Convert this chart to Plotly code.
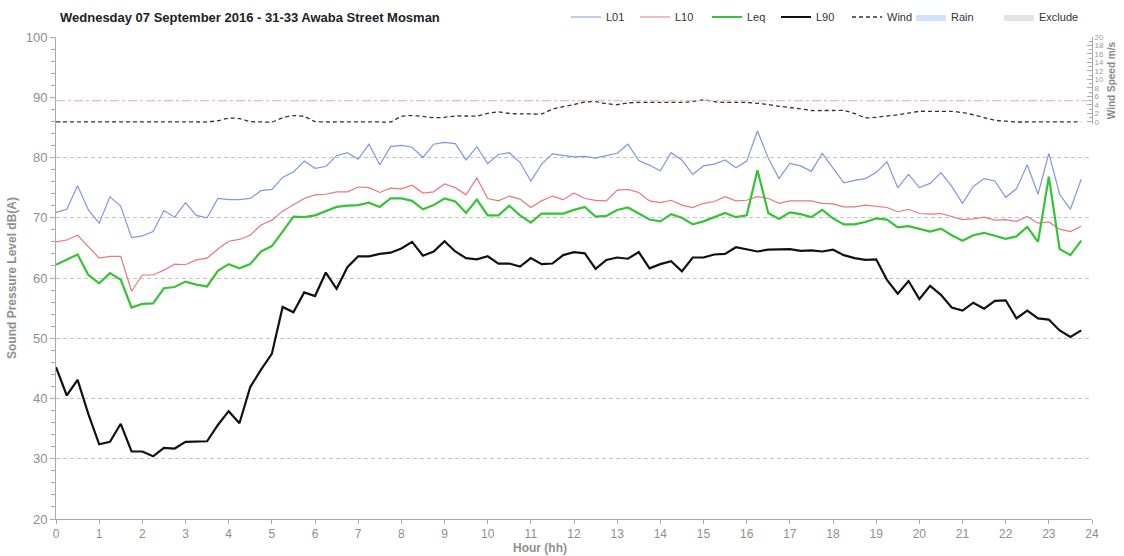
import plotly.graph_objects as go

TITLE = "Wednesday 07 September 2016 - 31-33 Awaba Street Mosman"

HOURS = [0.0, 0.25, 0.5, 0.75, 1.0, 1.25, 1.5, 1.75, 2.0, 2.25, 2.5, 2.75,
         3.0, 3.25, 3.5, 3.75, 4.0, 4.25, 4.5, 4.75, 5.0, 5.25, 5.5, 5.75,
         6.0, 6.25, 6.5, 6.75, 7.0, 7.25, 7.5, 7.75, 8.0, 8.25, 8.5, 8.75,
         9.0, 9.25, 9.5, 9.75, 10.0, 10.25, 10.5, 10.75, 11.0, 11.25, 11.5, 11.75,
         12.0, 12.25, 12.5, 12.75, 13.0, 13.25, 13.5, 13.75, 14.0, 14.25, 14.5, 14.75,
         15.0, 15.25, 15.5, 15.75, 16.0, 16.25, 16.5, 16.75, 17.0, 17.25, 17.5, 17.75,
         18.0, 18.25, 18.5, 18.75, 19.0, 19.25, 19.5, 19.75, 20.0, 20.25, 20.5, 20.75,
         21.0, 21.25, 21.5, 21.75, 22.0, 22.25, 22.5, 22.75, 23.0, 23.25, 23.5, 23.75]

L01 = [70.9, 71.4, 75.3, 71.3, 69.1, 73.5, 71.9, 66.7, 67.0, 67.7, 71.2, 70.1,
       72.5, 70.4, 70.0, 73.2, 73.0, 73.0, 73.2, 74.5, 74.7, 76.7, 77.6, 79.4,
       78.2, 78.5, 80.3, 80.8, 79.7, 82.2, 78.8, 81.8, 82.0, 81.7, 80.0, 82.2,
       82.5, 82.3, 79.6, 81.8, 79.0, 80.5, 80.8, 79.2, 76.1, 78.9, 80.6, 80.4,
       80.1, 80.2, 79.9, 80.3, 80.7, 82.2, 79.5, 78.7, 77.8, 80.8, 79.6, 77.2,
       78.6, 78.9, 79.6, 78.3, 79.4, 84.4, 79.9, 76.5, 79.0, 78.6, 77.7, 80.7,
       78.2, 75.8, 76.2, 76.5, 77.5, 79.3, 75.0, 77.2, 75.0, 75.7, 77.5, 75.2,
       72.4, 75.2, 76.5, 76.1, 73.4, 74.8, 78.8, 73.9, 80.7, 73.9, 71.4, 76.4]

L10 = [66.0, 66.3, 67.1, 65.2, 63.3, 63.6, 63.6, 57.8, 60.5, 60.5, 61.3, 62.3,
       62.2, 63.0, 63.3, 64.8, 66.1, 66.4, 67.1, 68.8, 69.6, 71.1, 72.1, 73.2,
       73.8, 73.9, 74.3, 74.3, 75.1, 75.0, 74.2, 74.9, 74.8, 75.4, 74.1, 74.3,
       75.6, 75.0, 73.8, 76.6, 73.2, 72.8, 73.6, 73.1, 71.7, 72.8, 73.6, 73.0,
       74.1, 73.2, 72.9, 72.8, 74.6, 74.7, 74.2, 72.8, 72.5, 72.9, 72.1, 71.7,
       72.4, 72.7, 73.5, 72.8, 72.9, 73.5, 73.2, 72.4, 72.8, 72.8, 72.8, 72.4,
       72.3, 71.8, 71.8, 72.1, 71.9, 71.7, 71.0, 71.4, 70.7, 70.6, 70.7, 70.2,
       69.7, 69.8, 70.1, 69.6, 69.7, 69.4, 70.2, 69.1, 69.3, 68.1, 67.7, 68.6]

LEQ = [62.2, 63.0, 63.9, 60.5, 59.1, 60.8, 59.7, 55.1, 55.7, 55.8, 58.3, 58.5,
       59.4, 58.9, 58.6, 61.2, 62.3, 61.6, 62.3, 64.4, 65.3, 67.7, 70.2, 70.1,
       70.4, 71.1, 71.8, 72.0, 72.1, 72.5, 71.8, 73.2, 73.2, 72.8, 71.4, 72.1,
       73.2, 72.7, 70.8, 73.0, 70.4, 70.4, 72.0, 70.4, 69.2, 70.7, 70.7, 70.7,
       71.3, 71.8, 70.2, 70.3, 71.3, 71.7, 70.7, 69.7, 69.4, 70.6, 70.0, 68.9,
       69.4, 70.1, 70.8, 70.1, 70.4, 77.9, 70.8, 69.8, 70.9, 70.6, 70.1, 71.3,
       69.9, 68.9, 68.9, 69.3, 69.9, 69.7, 68.4, 68.6, 68.1, 67.7, 68.2, 67.1,
       66.2, 67.1, 67.5, 67.0, 66.5, 66.9, 68.5, 66.0, 76.8, 64.8, 63.8, 66.2]

L90 = [45.2, 40.5, 43.1, 37.4, 32.4, 32.8, 35.8, 31.2, 31.2, 30.4, 31.8, 31.7,
       32.8, 32.9, 32.9, 35.6, 37.9, 35.9, 41.9, 44.8, 47.4, 55.2, 54.3, 57.6,
       57.0, 60.9, 58.2, 61.8, 63.6, 63.6, 64.0, 64.2, 64.9, 66.0, 63.7, 64.4,
       66.1, 64.4, 63.3, 63.1, 63.6, 62.4, 62.4, 61.9, 63.3, 62.3, 62.4, 63.8,
       64.3, 64.1, 61.5, 63.0, 63.4, 63.2, 64.3, 61.6, 62.3, 62.8, 61.1, 63.4,
       63.4, 63.9, 64.0, 65.1, 64.7, 64.4, 64.7, 64.7, 64.8, 64.5, 64.6, 64.4,
       64.7, 63.8, 63.3, 63.0, 63.1, 59.7, 57.4, 59.5, 56.5, 58.7, 57.2, 55.1,
       54.6, 55.9, 54.9, 56.2, 56.3, 53.3, 54.6, 53.3, 53.1, 51.3, 50.2, 51.3]

WIND = [0, 0, 0, 0, 0, 0, 0, 0, 0, 0, 0, 0,
        0, 0, 0, 0.3, 0.9, 0.8, 0.1, 0, 0, 1.0, 1.5, 1.3,
        0.1, 0, 0, 0, 0, 0, 0, 0, 1.3, 1.5, 1.3, 1.0,
        1.1, 1.4, 1.4, 1.4, 2.0, 2.4, 2.0, 1.9, 1.9, 1.9, 3.0, 3.6,
        4.1, 4.7, 4.8, 4.3, 4.1, 4.5, 4.6, 4.6, 4.6, 4.6, 4.6, 4.8,
        5.2, 4.8, 4.6, 4.6, 4.6, 4.4, 4.1, 3.7, 3.4, 3.1, 2.7, 2.7,
        2.7, 2.7, 2.0, 1.0, 1.1, 1.4, 1.7, 2.1, 2.5, 2.5, 2.5, 2.5,
        2.2, 1.7, 1.0, 0.4, 0.2, 0, 0, 0, 0, 0, 0, 0]

WIND_LIMIT = 5
X_TICKS = list(range(0, 25))
Y_TICKS = [20, 30, 40, 50, 60, 70, 80, 90, 100]
WIND_TICKS = [0, 2, 4, 6, 8, 10, 12, 14, 16, 18, 20]

FONT = "Liberation Sans, Arial, sans-serif"
GREY = "#8f8f8f"

W, H = 1124, 556
ML, MR, MT, MB = 56, 32, 37, 37
PW, PH = W - ML - MR, H - MT - MB

fig = go.Figure()
fig.add_trace(go.Scatter(x=HOURS, y=L01, name="L01", mode="lines", legendwidth=24,
                         line=dict(color="#7e98e2", width=1.2)))
fig.add_trace(go.Scatter(x=HOURS, y=L10, name="L10", mode="lines", legendwidth=27,
                         line=dict(color="#e8797b", width=1.2)))
fig.add_trace(go.Scatter(x=HOURS, y=LEQ, name="Leq", mode="lines", legendwidth=24,
                         line=dict(color="#36c436", width=2.2)))
fig.add_trace(go.Scatter(x=HOURS, y=L90, name="L90", mode="lines", legendwidth=26,
                         line=dict(color="#111111", width=2.2)))
fig.add_trace(go.Scatter(x=HOURS, y=WIND, name="Wind", mode="lines", yaxis="y2",
                         legendwidth=19,
                         line=dict(color="#333333", width=1.3, dash="4px,3px",
                                   shape="spline", smoothing=0.6)))
fig.add_trace(go.Scatter(x=[None], y=[None], name="Rain", mode="lines",
                         legendwidth=43,
                         fill="toself", fillcolor="#cfe3fb",
                         line=dict(color="#cfe3fb", width=0)))
fig.add_trace(go.Scatter(x=[None], y=[None], name="Exclude", mode="lines",
                         legendwidth=42,
                         fill="toself", fillcolor="#e3e3e3",
                         line=dict(color="#e3e3e3", width=0)))

fig.add_shape(type="line", xref="x", yref="y2", x0=0, x1=24,
              y0=WIND_LIMIT, y1=WIND_LIMIT,
              line=dict(color="#f2a6a6", width=1, dash="dashdot"))

fig.update_layout(
    width=W, height=H,
    margin=dict(l=ML, r=MR, t=MT, b=MB, autoexpand=False),
    paper_bgcolor="white", plot_bgcolor="white",
    font=dict(family=FONT, size=12, color=GREY),
    title=dict(text="<b>" + TITLE + "</b>", x=60 / W, xanchor="left",
               y=1 - 17 / H, yanchor="middle", xref="container", yref="container",
               font=dict(family=FONT, size=13, color="#222222")),
    legend=dict(orientation="h", x=(566 - ML) / PW, xanchor="left",
                y=1 - 17 / H, yanchor="middle", yref="container",
                font=dict(family=FONT, size=11, color="#333333"),
                itemwidth=30, bgcolor="rgba(0,0,0,0)", traceorder="normal"),
    showlegend=True,
    xaxis=dict(range=[0, 24], tickvals=X_TICKS, showgrid=False, zeroline=False,
               automargin=False,
               showline=True, linecolor="#aaaaaa", linewidth=1,
               ticks="outside", ticklen=4, tickcolor="#aaaaaa",
               tickfont=dict(family=FONT, size=12, color=GREY)),
    yaxis=dict(range=[20, 100], tickvals=Y_TICKS, showgrid=True, automargin=False,
               gridcolor="#c4c4c4", griddash="4px,3px", gridwidth=1,
               zeroline=False, showline=True, linecolor="#aaaaaa", linewidth=1,
               ticks="outside", ticklen=5, tickcolor="#aaaaaa",
               minor=dict(dtick=2, ticks="outside", ticklen=4, tickcolor="#aaaaaa",
                          showgrid=False),
               tickfont=dict(family=FONT, size=13, color=GREY),
               title=dict(text="<b>Sound Pressure Level dB(A)</b>", standoff=6,
                          font=dict(family=FONT, size=12, color=GREY))),
    yaxis2=dict(domain=[0.8193, 1.0], range=[-0.5, 20], anchor="x", side="right",
                automargin=False,
                tickvals=WIND_TICKS, showgrid=False, zeroline=False,
                showline=True, linecolor="#aaaaaa", linewidth=1,
                ticks="inside", ticklen=5, tickcolor="#aaaaaa",
                minor=dict(dtick=1, ticks="inside", ticklen=3, tickcolor="#aaaaaa"),
                tickfont=dict(family=FONT, size=8, color="#9a9a9a"),
                title=dict(text="<b>Wind Speed m/s</b>", standoff=4,
                           font=dict(family=FONT, size=10, color="#8a8a8a"))),
)

fig.add_annotation(text="<b>Hour (hh)</b>", xref="paper", yref="paper",
                   x=(540 - ML) / PW, y=-(548 - (H - MB)) / PH, xanchor="center",
                   yanchor="middle", showarrow=False,
                   font=dict(family=FONT, size=12, color=GREY))

fig.write_html("out.html",
               config={"displayModeBar": False},
               post_script="document.body.style.margin='0px';"
                           "document.body.style.overflow='hidden';")
